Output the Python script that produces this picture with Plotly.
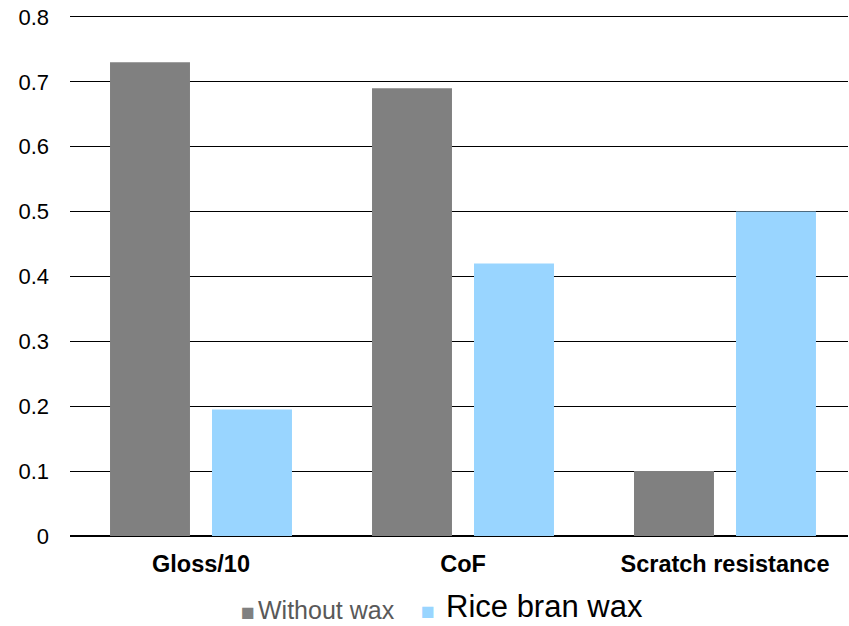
import plotly.graph_objects as go

categories = ["Gloss/10", "CoF", "Scratch resistance"]
without_wax = [0.73, 0.69, 0.10]
rice_bran_wax = [0.195, 0.42, 0.50]
series_names = ["Without wax", "Rice bran wax"]
series_colors = ["#808080", "#99D5FF"]
y_ticks = [0, 0.1, 0.2, 0.3, 0.4, 0.5, 0.6, 0.7, 0.8]

FONT = "Liberation Sans"

fig = go.Figure()
for name, vals, col in zip(series_names, [without_wax, rice_bran_wax], series_colors):
    fig.add_trace(go.Bar(x=categories, y=vals, name=name, showlegend=False,
                         marker=dict(color=col, line=dict(width=0))))

# legend drawn as text
PW, PH = 778.0, 521.0
def px(sx):
    return (sx - 70) / PW
def py(sy):
    return (536 - sy) / PH

legend_items = [
    dict(x=px(248), y=py(612), text="■", font=dict(family=FONT, size=23, color=series_colors[0]),
         xanchor="center", yanchor="middle"),
    dict(x=px(256), y=py(610), text=series_names[0], font=dict(family=FONT, size=25, color="#595959"),
         xanchor="left", yanchor="middle"),
    dict(x=px(428), y=py(611), text="■", font=dict(family=FONT, size=23, color=series_colors[1]),
         xanchor="center", yanchor="middle"),
    dict(x=px(444), y=py(606), text=series_names[1], font=dict(family=FONT, size=31, color="#000000"),
         xanchor="left", yanchor="middle"),
]
for a in legend_items:
    fig.add_annotation(xref="paper", yref="paper", showarrow=False, **a)

fig.update_layout(
    width=849, height=626,
    margin=dict(l=70, r=1, t=15, b=90),
    paper_bgcolor="white", plot_bgcolor="white",
    barmode="group", bargap=0.2214, bargroupgap=0.216,
    font=dict(family=FONT, size=20, color="#000000"),
    showlegend=False,
)
fig.update_xaxes(range=[-0.5, 2.4695], showline=False, ticks="", automargin=False,
                 ticklabelstandoff=11,
                 tickfont=dict(family=FONT, size=23.5, color="#000000"),
                 tickprefix="<b>", ticksuffix="</b>")
fig.update_yaxes(range=[0, 0.803], tickvals=y_ticks, ticktext=[("%g" % v) for v in y_ticks],
                 showgrid=True, gridcolor="#000000", gridwidth=1,
                 zeroline=True, zerolinecolor="#000000", zerolinewidth=2,
                 showline=False, ticks="", ticklabelstandoff=20, automargin=False,
                 tickfont=dict(family=FONT, size=22, color="#000000"))

fig.write_html("out.html", config={"displayModeBar": False},
               post_script="document.body.style.margin='0';")
